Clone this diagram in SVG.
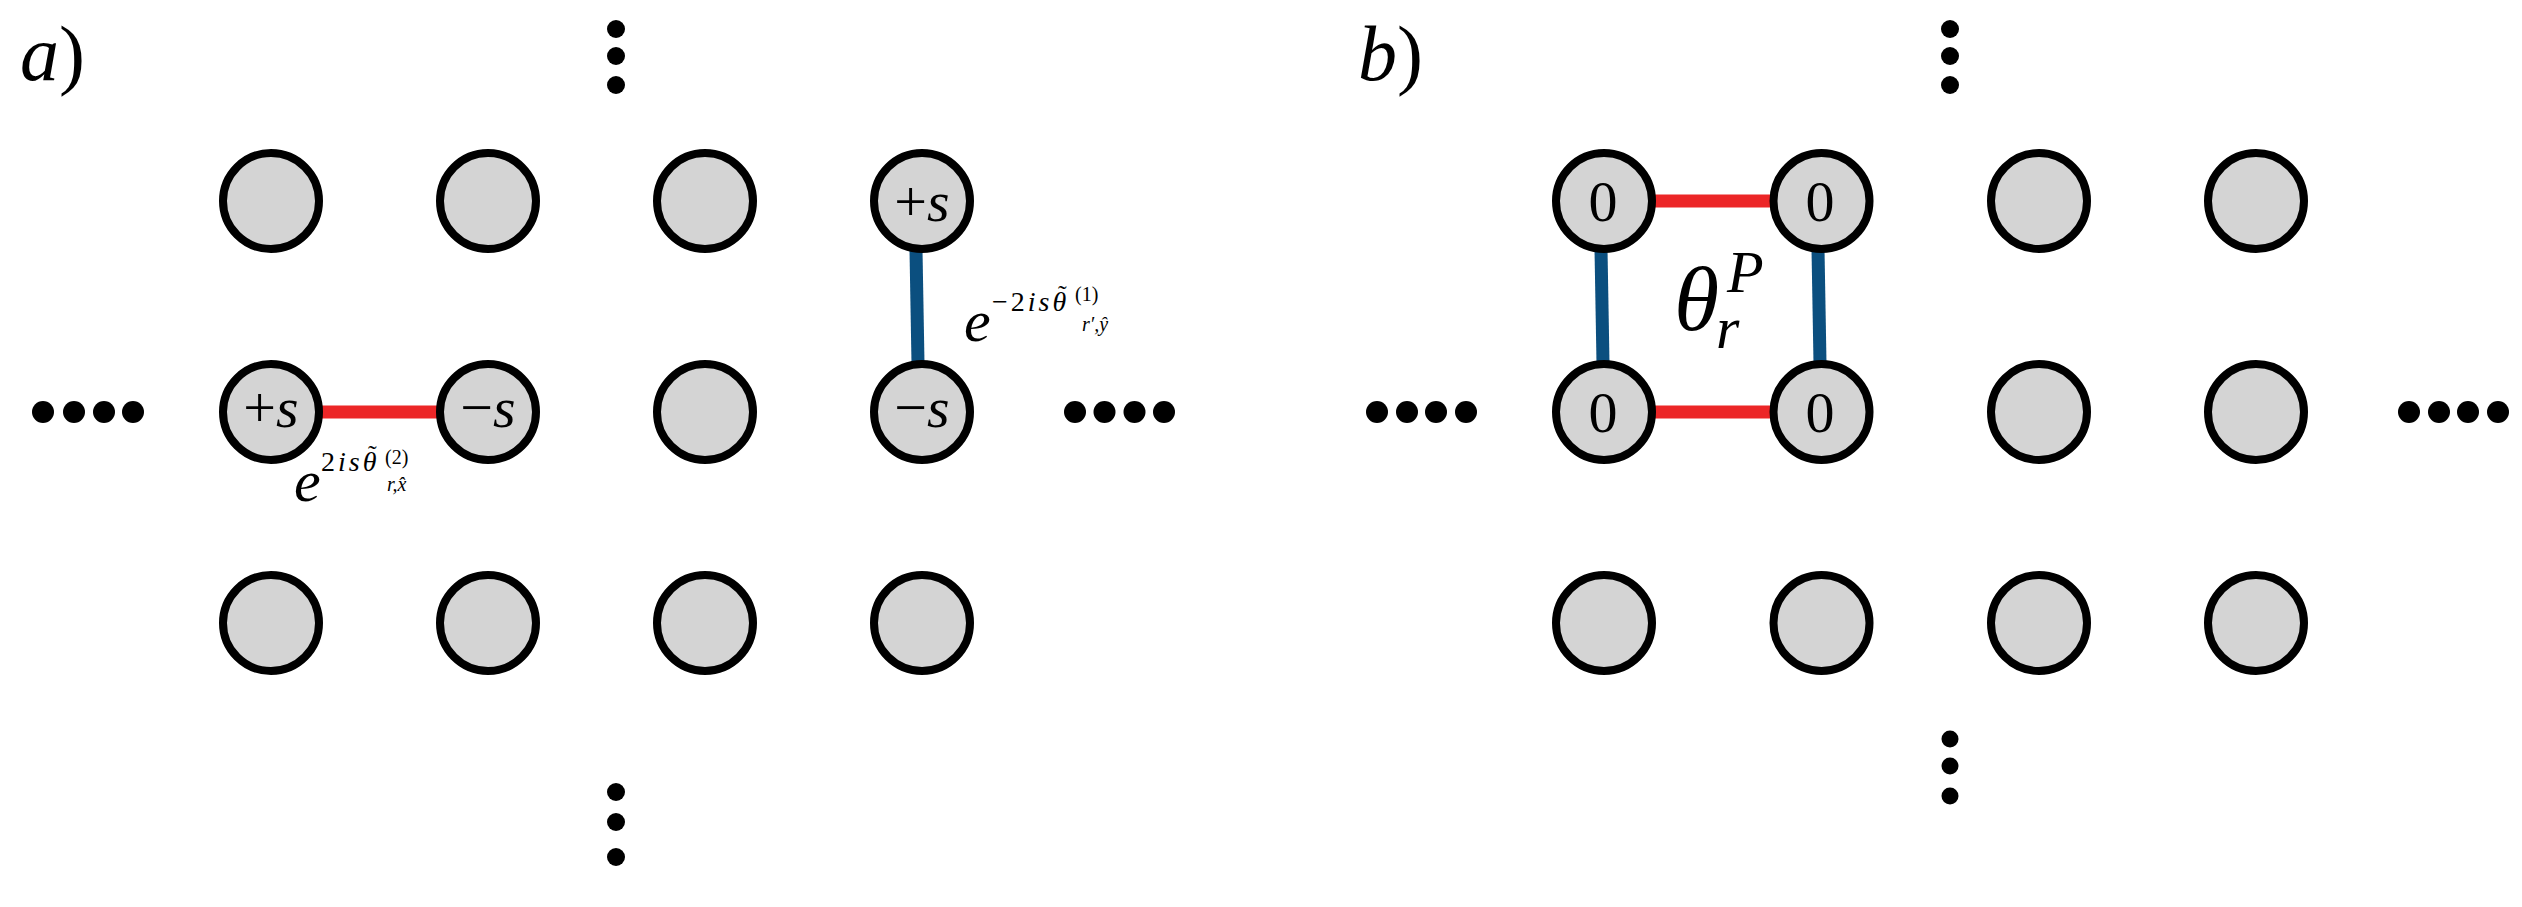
<svg xmlns="http://www.w3.org/2000/svg" width="2522" height="907" viewBox="0 0 2522 907">
<style>
.site{fill:#d4d4d4;stroke:#000;stroke-width:8}
.red{stroke:#ec2627;stroke-width:13;fill:none}
.blue{stroke:#0b4f7f;stroke-width:13;fill:none}
.dot{fill:#000}
.it{font-style:italic}
.lbl{font-size:58px;text-anchor:middle}
.sup{font-size:28px;letter-spacing:3px}
.tl{font-size:26px;font-style:normal;letter-spacing:0}
.idx{font-size:20px}
</style>
<rect width="2522" height="907" fill="#fff"/>
<g id="connectors">
<line class="red" x1="318" y1="412" x2="441" y2="412"/>
<line class="blue" x1="916" y1="250" x2="918" y2="363"/>
<line class="red" x1="1648" y1="201" x2="1773" y2="201"/>
<line class="red" x1="1648" y1="412" x2="1773" y2="412"/>
<line class="blue" x1="1601" y1="249" x2="1603" y2="363"/>
<line class="blue" x1="1818" y1="249" x2="1820" y2="363"/>
</g>
<g font-family="Liberation Serif, DejaVu Serif, serif" fill="#000">
<g id="panel-a-nodes">
<g id="a-r0c0"><circle class="site" cx="271" cy="201" r="48"/></g>
<g id="a-r0c1"><circle class="site" cx="488" cy="201" r="48"/></g>
<g id="a-r0c2"><circle class="site" cx="705" cy="201" r="48"/></g>
<g id="a-r0c3"><circle class="site" cx="922" cy="201" r="48"/><text class="lbl" x="922" y="221">+<tspan class="it">s</tspan></text></g>
<g id="a-r1c0"><circle class="site" cx="271" cy="412" r="48"/><text class="lbl" x="271" y="427">+<tspan class="it">s</tspan></text></g>
<g id="a-r1c1"><circle class="site" cx="488" cy="412" r="48"/><text class="lbl" x="488" y="427">−<tspan class="it">s</tspan></text></g>
<g id="a-r1c2"><circle class="site" cx="705" cy="412" r="48"/></g>
<g id="a-r1c3"><circle class="site" cx="922" cy="412" r="48"/><text class="lbl" x="922" y="427">−<tspan class="it">s</tspan></text></g>
<g id="a-r2c0"><circle class="site" cx="271" cy="623" r="48"/></g>
<g id="a-r2c1"><circle class="site" cx="488" cy="623" r="48"/></g>
<g id="a-r2c2"><circle class="site" cx="705" cy="623" r="48"/></g>
<g id="a-r2c3"><circle class="site" cx="922" cy="623" r="48"/></g>
</g>
<g id="panel-b-nodes">
<g id="b-r0c0"><circle class="site" cx="1604" cy="201" r="48"/><text class="lbl" x="1603" y="221">0</text></g>
<g id="b-r0c1"><circle class="site" cx="1821.5" cy="201" r="48"/><text class="lbl" x="1820" y="221">0</text></g>
<g id="b-r0c2"><circle class="site" cx="2039" cy="201" r="48"/></g>
<g id="b-r0c3"><circle class="site" cx="2256" cy="201" r="48"/></g>
<g id="b-r1c0"><circle class="site" cx="1604" cy="412" r="48"/><text class="lbl" x="1603" y="432">0</text></g>
<g id="b-r1c1"><circle class="site" cx="1821.5" cy="412" r="48"/><text class="lbl" x="1820" y="432">0</text></g>
<g id="b-r1c2"><circle class="site" cx="2039" cy="412" r="48"/></g>
<g id="b-r1c3"><circle class="site" cx="2256" cy="412" r="48"/></g>
<g id="b-r2c0"><circle class="site" cx="1604" cy="623" r="48"/></g>
<g id="b-r2c1"><circle class="site" cx="1821.5" cy="623" r="48"/></g>
<g id="b-r2c2"><circle class="site" cx="2039" cy="623" r="48"/></g>
<g id="b-r2c3"><circle class="site" cx="2256" cy="623" r="48"/></g>
</g>
<g id="ellipses">
<circle class="dot" cx="43" cy="412" r="11"/><circle class="dot" cx="74" cy="412" r="11"/><circle class="dot" cx="104" cy="412" r="11"/><circle class="dot" cx="133" cy="412" r="11"/>
<circle class="dot" cx="1075" cy="412" r="11"/><circle class="dot" cx="1104.5" cy="412" r="11"/><circle class="dot" cx="1134.5" cy="412" r="11"/><circle class="dot" cx="1164" cy="412" r="11"/>
<circle class="dot" cx="616" cy="29" r="9"/><circle class="dot" cx="616" cy="56" r="9"/><circle class="dot" cx="616" cy="85" r="9"/>
<circle class="dot" cx="616" cy="792" r="9"/><circle class="dot" cx="616" cy="822" r="9"/><circle class="dot" cx="616" cy="857" r="9"/>
<circle class="dot" cx="1377" cy="412" r="11"/><circle class="dot" cx="1407" cy="412" r="11"/><circle class="dot" cx="1436" cy="412" r="11"/><circle class="dot" cx="1466" cy="412" r="11"/>
<circle class="dot" cx="2409" cy="412" r="11"/><circle class="dot" cx="2439" cy="412" r="11"/><circle class="dot" cx="2468" cy="412" r="11"/><circle class="dot" cx="2498" cy="412" r="11"/>
<circle class="dot" cx="1950" cy="29" r="9"/><circle class="dot" cx="1950" cy="56" r="9"/><circle class="dot" cx="1950" cy="85" r="9"/>
<circle class="dot" cx="1950" cy="739" r="8.5"/><circle class="dot" cx="1950" cy="766" r="8.5"/><circle class="dot" cx="1950" cy="796" r="8.5"/>
</g>
<g id="labels">
<text x="20" y="80" font-size="78"><tspan class="it">a</tspan>)</text>
<text x="1358" y="80" font-size="78"><tspan class="it">b</tspan>)</text>
<text class="it" x="294" y="501" font-size="60">e</text>
<text class="sup" x="321" y="471">2<tspan class="it">isθ</tspan><tspan class="tl" x="368" y="463">˜</tspan></text>
<text class="idx" x="385" y="464">(2)</text>
<text class="it idx" x="387" y="491">r,x̂</text>
<text class="it" x="964" y="341" font-size="60">e</text>
<text class="sup" x="992" y="311">−2<tspan class="it">isθ</tspan><tspan class="tl" x="1058" y="303">˜</tspan></text>
<text class="idx" x="1075" y="301">(1)</text>
<text class="it idx" x="1082" y="331">r′,ŷ</text>
<text class="it" x="1674" y="330" font-size="92">θ</text>
<text class="it" x="1727" y="292" font-size="60">P</text>
<text class="it" x="1716" y="348" font-size="60">r</text>
</g>
</g>
</svg>
